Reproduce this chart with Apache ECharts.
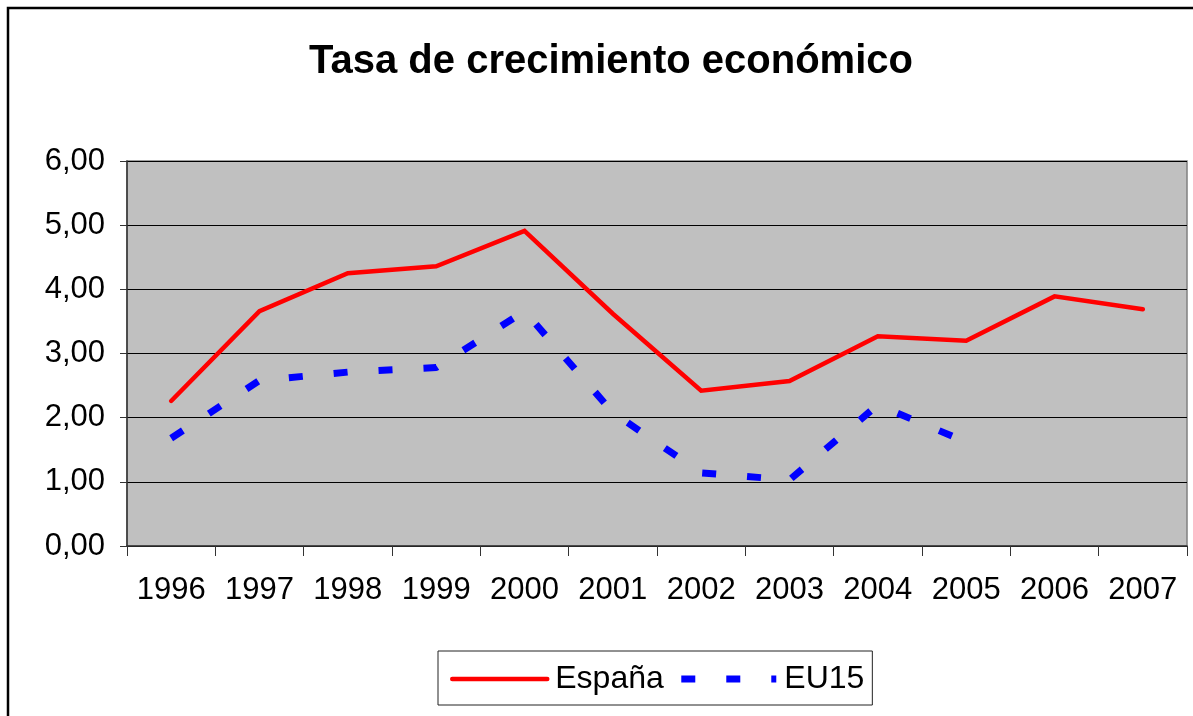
<!DOCTYPE html>
<html>
<head>
<meta charset="utf-8">
<script src="https://cdn.jsdelivr.net/npm/echarts@6/dist/echarts.min.js"></script>
<style>
  html, body { margin: 0; padding: 0; background: #fff; }
  #chart { width: 1193px; height: 716px; }
</style>
</head>
<body>
<div id="chart"></div>
<script>
// datos
const years = ['1996', '1997', '1998', '1999', '2000', '2001', '2002', '2003', '2004', '2005', '2006', '2007'];
const espana = [2.26, 3.66, 4.25, 4.36, 4.91, 3.62, 2.42, 2.57, 3.27, 3.20, 3.89, 3.69];
const eu15 = [1.68, 2.58, 2.71, 2.78, 3.66, 2.08, 1.14, 1.03, 2.20, 1.62, null, null];
const yTicks = [0, 1, 2, 3, 4, 5, 6];

const FONT = 'Liberation Sans, Arial, sans-serif';
const chart = echarts.init(document.getElementById('chart'), null, { renderer: 'canvas' });

chart.setOption({
  animation: false,
  backgroundColor: '#fff',
  textStyle: { fontFamily: FONT },
  title: {
    text: 'Tasa de crecimiento económico',
    left: 606,
    textAlign: 'center',
    top: 37,
    textStyle: { fontFamily: FONT, fontSize: 40, fontWeight: 'bold', color: '#000' }
  },
  graphic: [{
    type: 'rect',
    shape: { x: 8, y: 8, width: 1200, height: 730 },
    style: { fill: 'none', stroke: '#000', lineWidth: 2.5 },
    silent: true
  }],
  grid: {
    left: 127, right: 6, top: 161, bottom: 170,
    show: true,
    backgroundColor: '#c0c0c0',
    borderColor: '#808080',
    borderWidth: 1.5
  },
  legend: {
    left: 438,
    top: 651,
    padding: [12, 8, 10, 12],
    borderColor: '#222',
    borderWidth: 1,
    itemWidth: 95,
    itemHeight: 14,
    itemGap: 14,
    itemStyle: { color: 'transparent', borderColor: 'transparent', borderWidth: 0 },
    textStyle: { fontFamily: FONT, fontSize: 32, color: '#000', padding: [0, 0, 0, 3] },
    data: [
      { name: 'España', lineStyle: { width: 4.5 } },
      { name: 'EU15', lineStyle: { width: 7 } }
    ]
  },
  xAxis: {
    type: 'category',
    data: years,
    boundaryGap: true,
    axisLine: { lineStyle: { color: '#333', width: 1.5 } },
    axisTick: { show: true, length: 10, interval: 0, lineStyle: { color: '#333' } },
    axisLabel: { fontFamily: FONT, fontSize: 31, color: '#000', margin: 29, interval: 0 }
  },
  yAxis: {
    type: 'value',
    min: yTicks[0],
    max: yTicks[yTicks.length - 1],
    interval: 1,
    axisLine: { show: true, lineStyle: { color: '#333', width: 1.5 } },
    axisTick: { show: true, length: 7, lineStyle: { color: '#333' } },
    axisLabel: {
      fontFamily: FONT, fontSize: 31, color: '#000', margin: 22,
      formatter: v => v.toFixed(2).replace('.', ',')
    },
    splitLine: { show: true, lineStyle: { color: '#000', width: 1 } }
  },
  series: [
    {
      name: 'España',
      type: 'line',
      data: espana,
      symbol: 'none',
      lineStyle: { color: '#ff0000', width: 4.5, cap: 'round', join: 'miter' },
      itemStyle: { color: '#ff0000' }
    },
    {
      name: 'EU15',
      type: 'line',
      data: eu15,
      symbol: 'none',
      connectNulls: false,
      lineStyle: { color: '#0000ff', width: 7, type: [14, 31], cap: 'butt' },
      itemStyle: { color: '#0000ff' }
    }
  ]
});
</script>
</body>
</html>
